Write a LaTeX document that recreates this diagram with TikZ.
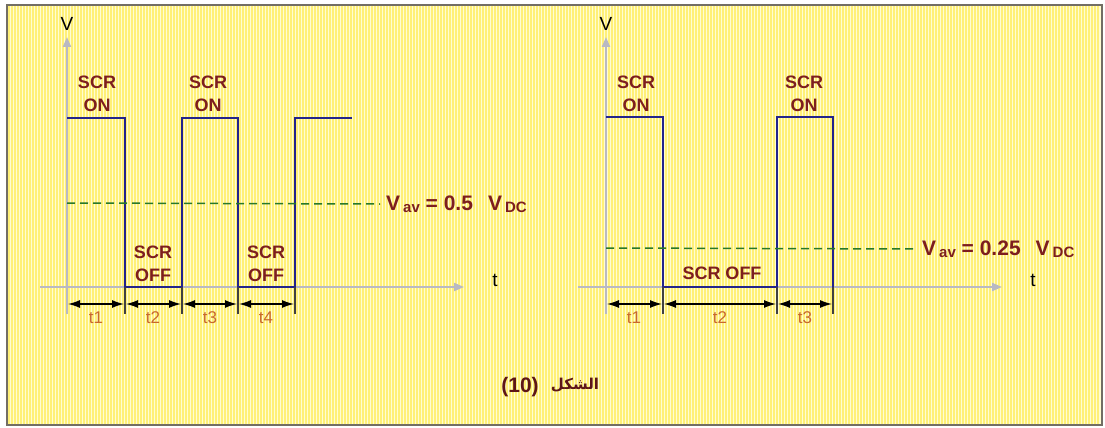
\documentclass[tikz,border=0pt]{standalone}
\usepackage{fontspec}
\setmainfont{Liberation Sans}
\newfontfamily\arabicfont[Script=Arabic]{DejaVu Sans}
\TeXXeTstate=1
\usetikzlibrary{arrows.meta}
\definecolor{bgy}{RGB}{255,253,210}
\definecolor{stripey}{RGB}{255,240,120}
\definecolor{framec}{RGB}{115,110,100}
\definecolor{wave}{RGB}{35,35,140}
\definecolor{axisc}{RGB}{185,185,195}
\definecolor{lab}{RGB}{125,30,30}
\definecolor{tlab}{RGB}{200,105,45}
\definecolor{dashc}{RGB}{40,120,40}
\newcommand{\subtx}[1]{\hspace{3pt}\raisebox{-2.5pt}{\fontsize{15}{17}\selectfont #1}}
\begin{document}
\begin{tikzpicture}[x=1pt,y=-1pt,
  lbl/.style={font=\fontsize{18}{23}\selectfont\bfseries, text=lab, align=center, inner sep=0pt},
  axisline/.style={draw=axisc, line width=2pt, -{Triangle[length=10pt,width=8pt]}},
  wavel/.style={draw=wave, line width=2pt, line join=miter},
  avg/.style={draw=dashc, line width=1.5pt, dash pattern=on 8pt off 5pt},
  tickl/.style={draw=black!75, line width=1.3pt},
  dim/.style={draw=black, line width=1.3pt, {Latex[length=12pt,width=8pt]}-{Latex[length=12pt,width=8pt]}, shorten >=1pt, shorten <=1pt},
  tl/.style={font=\fontsize{17}{19}\selectfont, text=tlab, inner sep=0pt},
  axl/.style={font=\fontsize{19}{21}\selectfont, inner sep=0pt},
  vav/.style={font=\fontsize{21}{23}\selectfont\bfseries, text=lab, inner sep=0pt, anchor=west},
  stripe/.style={draw=stripey, line width=1.4pt}
]
\useasboundingbox (0,0) rectangle (1105,428);
% background
\fill[white] (0,0) rectangle (1105,428);
\fill[bgy] (7,5) rectangle (1102,425);
\foreach \x in {9,12,...,1100} \draw[stripe] (\x,6) -- (\x,424);
\draw[framec, line width=2.5pt] (7,5) rectangle (1102,425);

% ================= LEFT GRAPH =================
\coordinate (LVb) at (67,314);
\coordinate (LVt) at (67,37);
\coordinate (LTa) at (40,287);
\coordinate (LTb) at (464,287);
\draw[axisline] (LVb) -- (LVt);
\draw[axisline] (LTa) -- (LTb);
\node[axl] (LV) at (67,24) {V};
\node[axl] (Lt) at (495,280) {t};

% waveform
\coordinate (w1) at (67,118);
\coordinate (w2) at (125,118);
\coordinate (w3) at (125,287);
\coordinate (w4) at (182,287);
\coordinate (w5) at (182,118);
\coordinate (w6) at (238,118);
\coordinate (w7) at (238,287);
\coordinate (w8) at (295,287);
\coordinate (w9) at (295,118);
\coordinate (w10) at (352,118);
\draw[wavel] (w1) -- (w2) -- (w3) -- (w4) -- (w5) -- (w6) -- (w7) -- (w8) -- (w9) -- (w10);

% average line
\coordinate (Lav) at (67,203);
\node[vav] (LavT) at (386,204) {V\subtx{av} = 0.5\hspace{15pt}V\subtx{DC}};
\draw[avg] (Lav) -- ([xshift=-6pt]LavT.west);

% labels
\node[lbl] (Lon1) at (97,94) {SCR\\ON};
\node[lbl] (Lon2) at (208,94) {SCR\\ON};
\node[lbl] (Loff1) at (153,264) {SCR\\OFF};
\node[lbl] (Loff2) at (266,264) {SCR\\OFF};

% ticks & dimensions
\foreach \x/\n in {125/a,182/b,238/c,295/d} {
  \coordinate (Lk\n) at (\x,287);
  \coordinate (Lkb\n) at (\x,314);
  \draw[tickl] (Lk\n) -- (Lkb\n);
}
\coordinate (Ld0) at (67,304);
\coordinate (Ld1) at (125,304);
\coordinate (Ld2) at (182,304);
\coordinate (Ld3) at (238,304);
\coordinate (Ld4) at (295,304);
\draw[dim] (Ld0) -- (Ld1);
\draw[dim] (Ld1) -- (Ld2);
\draw[dim] (Ld2) -- (Ld3);
\draw[dim] (Ld3) -- (Ld4);
\node[tl] (Lt1) at (96,318) {t1};
\node[tl] (Lt2) at (153,318) {t2};
\node[tl] (Lt3) at (210,318) {t3};
\node[tl] (Lt4) at (266,318) {t4};

% ================= RIGHT GRAPH =================
\coordinate (RVb) at (606,314);
\coordinate (RVt) at (606,37);
\coordinate (RTa) at (578,287);
\coordinate (RTb) at (1002,287);
\draw[axisline] (RVb) -- (RVt);
\draw[axisline] (RTa) -- (RTb);
\node[axl] (RV) at (606,24) {V};
\node[axl] (Rt) at (1033,280) {t};

\coordinate (r1) at (606,117);
\coordinate (r2) at (663,117);
\coordinate (r3) at (663,287);
\coordinate (r4) at (777,287);
\coordinate (r5) at (777,117);
\coordinate (r6) at (833,117);
\coordinate (r7) at (833,287);
\draw[wavel] (r1) -- (r2) -- (r3) -- (r4) -- (r5) -- (r6) -- (r7);

\coordinate (Rav) at (606,248);
\node[vav] (RavT) at (922,249) {V\subtx{av} = 0.25\hspace{15pt}V\subtx{DC}};
\draw[avg] (Rav) -- ([xshift=-6pt]RavT.west);

\node[lbl] (Ron1) at (636,94) {SCR\\ON};
\node[lbl] (Ron2) at (804,94) {SCR\\ON};
\node[lbl] (Roff) at (722,273) {SCR OFF};

\foreach \x/\n in {663/a,777/b,833/c} {
  \coordinate (Rk\n) at (\x,287);
  \coordinate (Rkb\n) at (\x,314);
  \draw[tickl] (Rk\n) -- (Rkb\n);
}
\coordinate (Rd0) at (606,304);
\coordinate (Rd1) at (663,304);
\coordinate (Rd2) at (777,304);
\coordinate (Rd3) at (833,304);
\draw[dim] (Rd0) -- (Rd1);
\draw[dim] (Rd1) -- (Rd2);
\draw[dim] (Rd2) -- (Rd3);
\node[tl] (Rt1) at (634,318) {t1};
\node[tl] (Rt2) at (720,318) {t2};
\node[tl] (Rt3) at (805,318) {t3};

% caption
\node[font=\fontsize{21}{24}\selectfont\bfseries, text=lab!75!black, inner sep=0pt] (cap10) at (520,387) {(10)};
\node[font=\arabicfont\bfseries\fontsize{15}{18}\selectfont, text=lab!75!black, inner sep=0pt] (capAr) at (575,385) {\beginR الشكل\endR};
\end{tikzpicture}
\end{document}
